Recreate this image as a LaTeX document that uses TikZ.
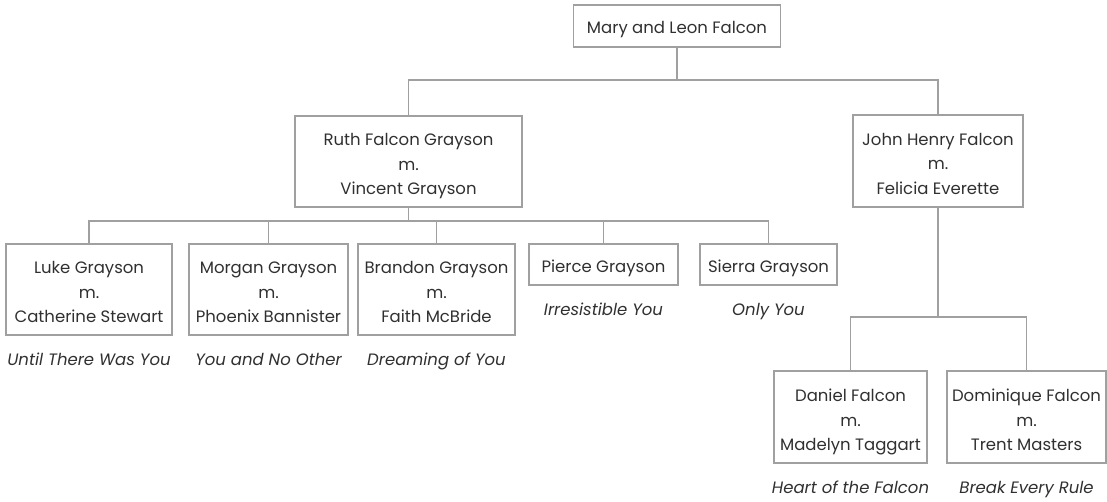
\documentclass[tikz,border=0pt]{standalone}
\usepackage{fontspec}
\setmainfont{Poppins}
\usetikzlibrary{positioning}
\definecolor{linegray}{HTML}{A0A0A0}
\definecolor{textgray}{HTML}{303030}

\begin{document}
\begin{tikzpicture}[x=1pt, y=-1pt,
    person/.style={draw=linegray, line width=1.2pt, rectangle, align=center, inner sep=0pt, text=textgray, font=\fontsize{16.5}{24.5}\selectfont, text height=18pt, text depth=2pt},
    couple/.style={person, text height=67pt, text depth=0pt},
    title/.style={text=textgray, inner sep=0pt, text height=12pt, text depth=4pt, font=\fontsize{16.5}{18}\selectfont\itshape},
    link/.style={draw=linegray, line width=1.2pt}]
    \useasboundingbox (0,0) rectangle (1107,502);

    % generations
    \node[person, minimum width=207pt, minimum height=42pt] (parents) at (677,26) {Mary and Leon Falcon};
    \node[couple, minimum width=227pt, minimum height=91pt] (ruth) at (408.5,161.5) {Ruth Falcon Grayson\\m.\\Vincent Grayson};
    \node[couple, minimum width=170pt, minimum height=92pt] (john) at (938,161) {John Henry Falcon\\m.\\Felicia Everette};

    \node[couple, minimum width=166pt, minimum height=91pt] (luke) at (89,289.5) {Luke Grayson\\m.\\Catherine Stewart};
    \node[couple, minimum width=159pt, minimum height=91pt] (morgan) at (268.5,289.5) {Morgan Grayson\\m.\\Phoenix Bannister};
    \node[couple, minimum width=157pt, minimum height=91pt] (brandon) at (436.5,289.5) {Brandon Grayson\\m.\\Faith McBride};
    \node[person, minimum width=149pt, minimum height=41pt] (pierce) at (603.5,264.5) {Pierce Grayson};
    \node[person, minimum width=137pt, minimum height=41pt] (sierra) at (768.5,264.5) {Sierra Grayson};

    \node[couple, minimum width=153pt, minimum height=92pt] (daniel) at (850.5,417) {Daniel Falcon\\m.\\Madelyn Taggart};
    \node[couple, minimum width=159pt, minimum height=92pt] (dominique) at (1026.5,417) {Dominique Falcon\\m.\\Trent Masters};

    % book titles
    \node[title, below=18pt of luke] (lukebook) {Until There Was You};
    \node[title, below=18pt of morgan] (morganbook) {You and No Other};
    \node[title, below=18pt of brandon] (brandonbook) {Dreaming of You};
    \node[title, below=18pt of pierce] (piercebook) {Irresistible You};
    \node[title, below=18pt of sierra] (sierrabook) {Only You};
    \node[title, below=18pt of daniel] (danielbook) {Heart of the Falcon};
    \node[title, below=18pt of dominique] (dominiquebook) {Break Every Rule};

    % branch points
    \coordinate (topbar) at (parents.south |- 0,80);
    \coordinate (ruthbar) at (ruth.south |- 0,221);
    \coordinate (johnbar) at (john.south |- 0,317);

    \draw[link] (parents.south) -- (topbar);
    \draw[link] (ruth.north) |- (topbar) -| (john.north);

    \draw[link] (ruth.south) -- (ruthbar);
    \draw[link] (luke.north) |- (ruthbar) -| (sierra.north);
    \draw[link] (morgan.north) -- (morgan.north |- ruthbar);
    \draw[link] (brandon.north) -- (brandon.north |- ruthbar);
    \draw[link] (pierce.north) -- (pierce.north |- ruthbar);

    \draw[link] (john.south) -- (johnbar);
    \draw[link] (daniel.north) |- (johnbar) -| (dominique.north);
\end{tikzpicture}
\end{document}
